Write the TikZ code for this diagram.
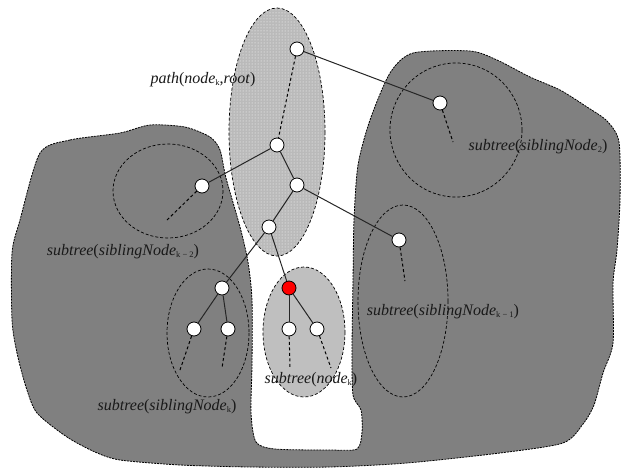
\documentclass[tikz,border=0pt]{standalone}
\usepackage{fontspec}
\setmainfont{Liberation Serif}
\usetikzlibrary{patterns}
\newcommand\lowsub[1]{\raisebox{-1.5pt}{\fontsize{8.5}{9}\selectfont\upshape #1}}
\begin{document}
\begin{tikzpicture}[x=1pt,y=-1pt,
  tnode/.style={circle,draw=black,fill=white,line width=0.8pt,minimum size=14pt,inner sep=0pt},
  knode/.style={tnode,fill=red},
  edge/.style={line width=1pt,draw=black!85},
  stub/.style={line width=1pt,dash pattern=on 3pt off 2.5pt},
  region/.style={dash pattern=on 3pt off 2pt,line width=0.7pt},
  blobline/.style={dash pattern=on 2pt off 1pt,line width=0.8pt},
  lbl/.style={font=\fontsize{16}{18}\selectfont,inner sep=0pt,text=black!90}
]
\useasboundingbox (0,0) rectangle (621,469);

% the remaining part of the tree: one connected gray region
\draw[blobline,fill=black!50] plot[smooth cycle,tension=0.45] coordinates {
  (40,153) (70,140) (120,133) (150,125) (185,127) (210,137) (220,150)
  (226,178) (240,227) (248,262) (252,300) (252,365) (251,413) (256,442)
  (275,449) (330,450) (357,449) (362,432) (361,410) (353,395) (352,350)
  (353,280) (354,220) (358,165) (370,120) (390,73) (413,53) (470,51)
  (497,60) (530,77) (560,90) (587,107) (607,121) (619,142) (620,200)
  (617,250) (613,283) (613,343) (603,373) (594,405) (583,424) (563,443)
  (500,453) (407,463) (330,467) (250,467) (180,465) (120,460) (95,452)
  (67,437) (37,413) (26,387) (17,353) (12,320) (12,253) (20,220)};

% path from node_k up to the root
\fill[black!27] (277,132) ellipse [x radius=48,y radius=124];
\fill[pattern=dots,pattern color=white] (277,132) ellipse [x radius=48,y radius=124];
\draw[region] (277,132) ellipse [x radius=48,y radius=124];

% subtree of node_k
\draw[region,fill=black!25] (304,332) ellipse [x radius=41,y radius=65];

% subtrees of the siblings
\draw[region] (208,333) ellipse [x radius=41,y radius=64];
\draw[region] (168,191) ellipse [x radius=55,y radius=47];
\draw[region] (456,130) ellipse [x radius=66,y radius=67];
\draw[region] (403,301) ellipse [x radius=45,y radius=96];

% tree nodes
\node[tnode] (root) at (297,49) {};
\node[tnode] (s2) at (440,103) {};
\node[tnode] (a) at (277,145) {};
\node[tnode] (skm2) at (202,186) {};
\node[tnode] (b) at (297,185) {};
\node[tnode] (c) at (269,227) {};
\node[tnode] (skm1) at (399,240) {};
\node[tnode] (sk) at (222,288) {};
\node[tnode] (sk1) at (194,329) {};
\node[tnode] (sk2) at (228,329) {};
\node[knode] (k) at (289,288) {};
\node[tnode] (k1) at (289,329) {};
\node[tnode] (k2) at (317,329) {};

% loose ends of the dashed stubs
\coordinate (s2e) at (453,142);
\coordinate (skm2e) at (167,220);
\coordinate (skm1e) at (405,281);
\coordinate (sk1e) at (180,370);
\coordinate (sk2e) at (222,368);
\coordinate (k1e) at (290,368);
\coordinate (k2e) at (331,368);

% edges
\draw[edge] (root) -- (s2);
\draw[stub] (root) -- (a);
\draw[edge] (a) -- (skm2);
\draw[edge] (a) -- (b);
\draw[edge] (b) -- (c);
\draw[edge] (b) -- (skm1);
\draw[edge] (c) -- (sk);
\draw[edge] (c) -- (k);
\draw[edge] (sk) -- (sk1);
\draw[edge] (sk) -- (sk2);
\draw[edge] (k) -- (k1);
\draw[edge] (k) -- (k2);

\draw[stub] (s2) -- (s2e);
\draw[stub] (skm2) -- (skm2e);
\draw[stub] (skm1) -- (skm1e);
\draw[stub] (sk1) -- (sk1e);
\draw[stub] (sk2) -- (sk2e);
\draw[stub] (k1) -- (k1e);
\draw[stub] (k2) -- (k2e);

% labels
\node[lbl] (lpath) at (203,80) {\textit{path}(\textit{node}\lowsub{k},\textit{root})};
\node[lbl] (ls2) at (538,147) {\textit{subtree}(\textit{siblingNode}\lowsub{2})};
\node[lbl] (lskm2) at (123,252) {\textit{subtree}(\textit{siblingNode}\lowsub{k − 2})};
\node[lbl] (lskm1) at (443,312) {\textit{subtree}(\textit{siblingNode}\lowsub{k − 1})};
\node[lbl] (lsk) at (167,407) {\textit{subtree}(\textit{siblingNode}\lowsub{k})};
\node[lbl] (lk) at (311,380) {\textit{subtree}(\textit{node}\lowsub{k})};
\end{tikzpicture}
\end{document}
